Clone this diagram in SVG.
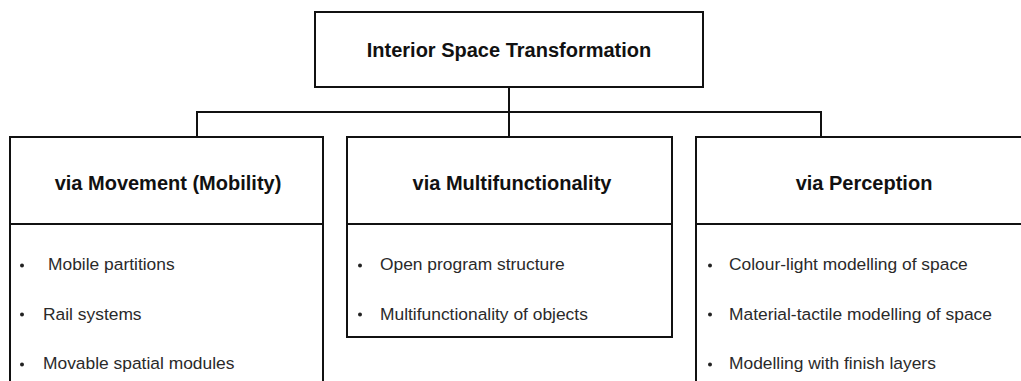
<svg xmlns="http://www.w3.org/2000/svg" width="1021" height="381" viewBox="0 0 1021 381">
<style>
.box{fill:#fff;stroke:#111;stroke-width:2}
.ln{fill:none;stroke:#111;stroke-width:2}
.t{font-family:"Liberation Sans",Arial,sans-serif;font-weight:bold;font-size:20px;fill:#111;text-anchor:middle}
.i{font-family:"Liberation Sans",Arial,sans-serif;font-size:17.4px;fill:#2a2a2a}
.b{fill:#222}
</style>
<rect width="1021" height="381" fill="#fff"/>
<g id="connectors">
<path class="ln" d="M509 87V112M197 137V112H821V137M509 112V137"/>
</g>
<g id="root">
<rect class="box" x="315" y="12" width="388" height="75"/>
<text class="t" x="509" y="57">Interior Space Transformation</text>
</g>
<g id="mobility">
<rect class="box" x="10" y="137" width="313" height="260"/>
<line class="ln" x1="10" y1="224" x2="323" y2="224"/>
<text class="t" x="168" y="190">via Movement (Mobility)</text>
<circle class="b" cx="22" cy="265.5" r="2"/><text class="i" x="48" y="270">Mobile partitions</text>
<circle class="b" cx="22" cy="314.5" r="2"/><text class="i" x="43" y="320">Rail systems</text>
<circle class="b" cx="22" cy="364.5" r="2"/><text class="i" x="43" y="369">Movable spatial modules</text>
</g>
<g id="multifunctionality">
<rect class="box" x="347" y="137" width="325" height="200"/>
<line class="ln" x1="347" y1="224" x2="672" y2="224"/>
<text class="t" x="512" y="190">via Multifunctionality</text>
<circle class="b" cx="360" cy="265.5" r="2"/><text class="i" x="380" y="270">Open program structure</text>
<circle class="b" cx="360" cy="314.5" r="2"/><text class="i" x="380" y="320">Multifunctionality of objects</text>
</g>
<g id="perception">
<rect class="box" x="696" y="137" width="340" height="260"/>
<line class="ln" x1="696" y1="224" x2="1036" y2="224"/>
<text class="t" x="864" y="190">via Perception</text>
<circle class="b" cx="710" cy="265.5" r="2"/><text class="i" x="729" y="270">Colour-light modelling of space</text>
<circle class="b" cx="710" cy="314.5" r="2"/><text class="i" x="729" y="320">Material-tactile modelling of space</text>
<circle class="b" cx="710" cy="364.5" r="2"/><text class="i" x="729" y="369">Modelling with finish layers</text>
</g>
</svg>
